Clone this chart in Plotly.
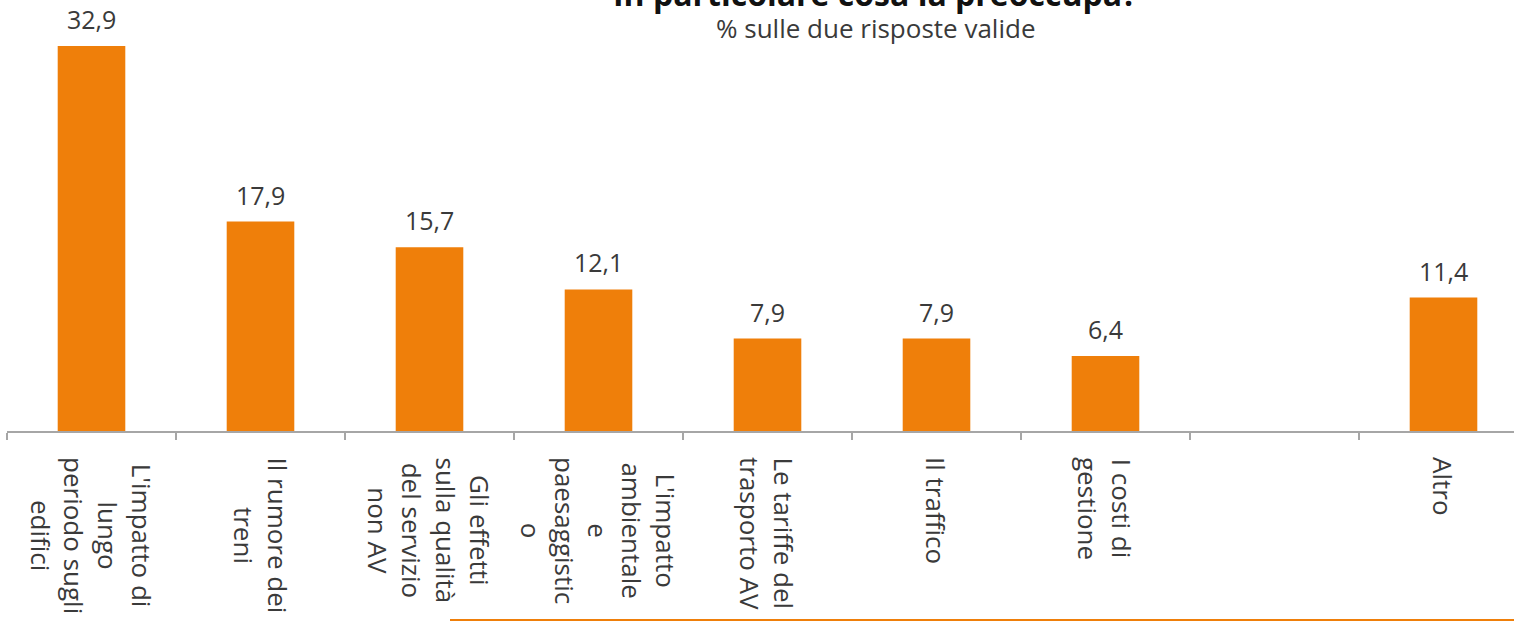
import plotly.graph_objects as go

# ---- data ----
categories = [
    "L'impatto di<br>lungo<br>periodo sugli<br>edifici",
    "Il rumore dei<br>treni",
    "Gli effetti<br>sulla qualità<br>del servizio<br>non AV",
    "L'impatto<br>ambientale<br>e<br>paesaggistic<br>o",
    "Le tariffe del<br>trasporto AV",
    "Il traffico",
    "I costi di<br>gestione",
    "",
    "Altro",
]
values = [32.9, 17.9, 15.7, 12.1, 7.9, 7.9, 6.4, None, 11.4]
title_text = "In particolare cosa la preoccupa?"
subtitle_text = "% sulle due risposte valide"

ORANGE = "#EF7F0A"
TEXT = "#3a3a3a"
FONT = "Open Sans"

W, H = 1514, 621
M_L, M_T = 7, 0
PLOT_H = 431
M_B = H - M_T - PLOT_H
CAT_W = 169.0
PLOT_W = W - M_L
x_idx = list(range(len(categories)))

fig = go.Figure()
fig.add_trace(go.Bar(
    x=x_idx, y=values, width=0.4,
    marker=dict(color=ORANGE, line=dict(width=0)),
    hoverinfo="skip",
))

def py(p):
    # pixel from top -> paper y
    return 1 - (p - M_T) / PLOT_H

annotations = []
for i, v in enumerate(values):
    if v is None:
        continue
    annotations.append(dict(
        x=i, xref="x", y=v, yref="y", text=f"{v:.1f}".replace(".", ","),
        showarrow=False, xanchor="center", yanchor="bottom", yshift=8,
        font=dict(family=FONT, size=25, color=TEXT),
    ))
for i, c in enumerate(categories):
    if not c:
        continue
    annotations.append(dict(
        x=i, xref="x", y=py(455), yref="paper", text=c, textangle=90,
        showarrow=False, xanchor="center", yanchor="top", align="center",
        font=dict(family=FONT, size=26, color=TEXT),
    ))
annotations.append(dict(
    x=(875 - M_L) / PLOT_W, xref="paper", y=py(-7), yref="paper",
    text="<b>" + title_text + "</b>", showarrow=False,
    xanchor="center", yanchor="middle", borderpad=0,
    font=dict(family=FONT, size=32, color="#111111"),
))
annotations.append(dict(
    x=(875 - M_L) / PLOT_W, xref="paper", y=py(28), yref="paper",
    text=subtitle_text, showarrow=False,
    xanchor="center", yanchor="middle", borderpad=0,
    font=dict(family=FONT, size=26, color=TEXT),
))

fig.update_layout(
    width=W, height=H,
    margin=dict(l=M_L, r=0, t=M_T, b=M_B, pad=0),
    paper_bgcolor="white", plot_bgcolor="white",
    separators=",.",
    showlegend=False,
    annotations=annotations,
    shapes=[dict(type="line", xref="paper", yref="paper",
                 x0=(450 - M_L) / PLOT_W, x1=1, y0=py(620), y1=py(620),
                 line=dict(color=ORANGE, width=2))],
    xaxis=dict(
        range=[-0.5, -0.5 + PLOT_W / CAT_W],
        tickmode="array", tickvals=[i - 0.5 for i in x_idx],
        showticklabels=False, ticks="outside", ticklen=7, tickwidth=1.5,
        tickcolor="#a6a6a6", showline=True, linecolor="#a6a6a6", linewidth=1.5,
        showgrid=False, zeroline=False, fixedrange=True,
    ),
    yaxis=dict(
        range=[0, PLOT_H / 11.7], visible=False, showgrid=False,
        zeroline=False, fixedrange=True,
    ),
)

fig.write_html(
    "out.html",
    config={"displayModeBar": False, "staticPlot": True},
    post_script="document.body.style.margin='0';document.body.style.overflow='hidden';",
)
